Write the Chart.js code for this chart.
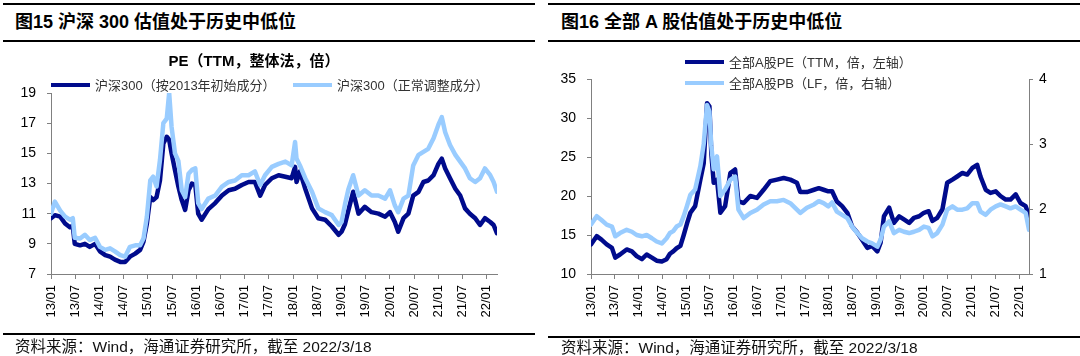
<!DOCTYPE html>
<html><head><meta charset="utf-8">
<script src="https://cdn.jsdelivr.net/npm/chart.js@4.4.1/dist/chart.umd.min.js"></script>
<style>
html,body{margin:0;padding:0;background:#fff;width:1080px;height:356px;overflow:hidden;position:relative;font-family:"Liberation Sans","Noto Sans CJK SC",sans-serif;}
.rule{position:absolute;background:#000;height:2px;}
.head{position:absolute;font-weight:bold;font-size:18px;line-height:18px;color:#000;white-space:nowrap;}
.src{position:absolute;font-size:15.5px;line-height:15px;color:#111;white-space:nowrap;}
.box{position:absolute;top:0;width:540px;height:356px;}
</style></head><body>
<div class="rule" style="left:3px;width:532px;top:3px;"></div>
<div class="rule" style="left:3px;width:532px;top:40px;"></div>
<div class="rule" style="left:548px;width:532px;top:3px;"></div>
<div class="rule" style="left:548px;width:532px;top:40px;"></div>
<div class="head" style="left:15px;top:13px;">图15 沪深 300 估值处于历史中低位</div>
<div class="head" style="left:561px;top:13px;">图16 全部 A 股估值处于历史中低位</div>
<div class="box" style="left:0;"><canvas id="c1" width="540" height="356"></canvas></div>
<div class="box" style="left:540px;"><canvas id="c2" width="540" height="356"></canvas></div>
<div class="rule" style="left:3px;width:532px;top:333px;"></div>
<div class="rule" style="left:548px;width:532px;top:336px;"></div>
<div class="src" style="left:15px;top:339px;">资料来源：Wind，海通证券研究所，截至 2022/3/18</div>
<div class="src" style="left:561px;top:340px;">资料来源：Wind，海通证券研究所，截至 2022/3/18</div>
<script>
// ---- tick labels ----
const halfYearTicks = [2013,2013.5,2014,2014.5,2015,2015.5,2016,2016.5,2017,2017.5,2018,2018.5,2019,2019.5,2020,2020.5,2021,2021.5,2022];
const tickLabels = ['13/01','13/07','14/01','14/07','15/01','15/07','16/01','16/07','17/01','17/07','18/01','18/07','19/01','19/07','20/01','20/07','21/01','21/07','22/01'];

// ---- Figure 15: CSI 300 PE ----
const hsDates = [2013.00,2013.08,2013.19,2013.29,2013.39,2013.45,2013.49,2013.60,2013.70,2013.80,2013.91,2014.01,2014.12,2014.22,2014.32,2014.43,2014.53,2014.63,2014.74,2014.84,2014.91,2014.98,2015.05,2015.11,2015.18,2015.25,2015.32,2015.39,2015.44,2015.49,2015.56,2015.63,2015.70,2015.77,2015.84,2015.91,2015.98,2016.04,2016.11,2016.25,2016.39,2016.53,2016.67,2016.80,2016.94,2017.08,2017.21,2017.32,2017.42,2017.56,2017.70,2017.84,2017.97,2018.04,2018.07,2018.14,2018.25,2018.39,2018.52,2018.66,2018.80,2018.94,2019.00,2019.07,2019.14,2019.24,2019.35,2019.48,2019.62,2019.76,2019.90,2020.00,2020.10,2020.17,2020.28,2020.38,2020.48,2020.59,2020.69,2020.79,2020.90,2021.00,2021.07,2021.14,2021.24,2021.35,2021.45,2021.55,2021.65,2021.76,2021.86,2021.96,2022.07,2022.14,2022.21];
const hsInitial = [10.7,10.9,10.8,10.35,10.1,10.2,9.0,8.9,9.0,8.8,9.0,8.5,8.25,8.15,7.95,7.8,7.8,8.15,8.35,8.6,9.15,10.35,12.1,11.9,12.1,13.2,15.65,16.1,15.9,15.0,13.9,12.8,11.9,11.25,12.55,13.0,12.9,11.0,10.6,11.3,11.7,12.2,12.55,12.65,12.9,13.1,13.1,12.2,12.9,13.35,13.55,13.45,13.35,14.1,13.1,13.8,12.65,11.35,10.7,10.6,10.15,9.6,9.8,10.3,11.2,12.45,11.0,11.45,11.1,11.0,10.8,11.1,10.45,9.8,10.7,11.0,12.2,12.45,13.1,13.2,13.55,14.3,14.65,14.0,13.35,12.65,12.2,11.35,11.0,10.7,10.25,10.7,10.45,10.25,9.7];
const hsAdjusted = [11.0,11.8,11.2,10.8,10.6,10.7,9.4,9.35,9.6,9.25,9.4,8.8,8.6,8.7,8.5,8.25,8.15,8.8,8.9,8.9,9.35,10.8,13.2,13.45,12.8,14.55,17.0,17.3,19.0,16.75,15.0,14.5,12.55,12.1,13.65,13.9,14.0,11.7,11.3,12.0,12.2,12.8,13.1,13.2,13.55,13.55,13.8,12.9,13.55,14.1,14.3,14.45,14.2,15.75,14.65,14.2,13.35,12.45,11.35,11.1,10.9,10.25,10.45,11.6,12.6,13.55,12.2,12.55,12.2,12.2,12.0,12.55,11.55,11.1,12.0,12.2,14.2,14.9,15.1,15.3,16.0,16.9,17.4,16.4,15.55,14.9,14.45,14.0,13.35,13.1,13.35,14.0,13.55,13.1,12.45];

// ---- Figure 16: All A-share PE / PB ----
const aDates = [2013.00,2013.12,2013.22,2013.33,2013.44,2013.51,2013.61,2013.75,2013.86,2013.96,2014.07,2014.17,2014.28,2014.38,2014.49,2014.59,2014.66,2014.73,2014.80,2014.88,2014.95,2015.02,2015.09,2015.19,2015.30,2015.37,2015.44,2015.49,2015.53,2015.58,2015.65,2015.72,2015.82,2015.93,2016.03,2016.10,2016.21,2016.35,2016.49,2016.63,2016.77,2016.91,2017.05,2017.19,2017.33,2017.40,2017.54,2017.69,2017.79,2017.89,2017.99,2018.07,2018.17,2018.28,2018.39,2018.49,2018.60,2018.70,2018.81,2018.91,2019.02,2019.09,2019.16,2019.27,2019.37,2019.48,2019.58,2019.69,2019.79,2019.90,2020.00,2020.10,2020.18,2020.28,2020.39,2020.49,2020.60,2020.70,2020.81,2020.91,2021.02,2021.12,2021.19,2021.30,2021.40,2021.51,2021.61,2021.72,2021.82,2021.93,2022.03,2022.14,2022.21];
const aPE = [13.8,14.85,14.4,13.8,13.35,12.1,12.5,13.15,12.9,12.3,11.9,12.5,12.1,11.7,11.6,11.9,12.6,12.9,13.3,13.6,15.0,16.5,17.85,18.7,22.1,24.2,31.9,31.5,25.5,21.7,22.1,17.85,18.7,22.95,23.4,19.3,19.1,20.0,19.75,20.8,21.9,22.1,22.3,22.1,21.7,20.5,20.5,20.8,21.0,20.8,20.6,20.6,19.3,18.7,17.85,16.1,15.3,14.4,13.35,13.6,12.9,14.0,17.4,18.5,16.55,17.4,17.0,16.55,17.2,17.4,17.85,18.05,16.8,17.2,18.3,21.7,22.1,22.5,22.95,22.75,23.6,24.0,22.5,20.8,20.4,20.6,20.0,19.55,19.55,20.2,19.1,18.7,17.4];
const aPB = [1.76,1.89,1.83,1.76,1.73,1.58,1.63,1.68,1.65,1.60,1.58,1.60,1.55,1.50,1.47,1.55,1.63,1.66,1.73,1.76,1.89,2.05,2.22,2.30,2.66,3.0,3.6,3.5,2.97,2.61,2.81,2.2,2.30,2.45,2.5,1.99,1.86,1.94,1.99,2.07,2.12,2.12,2.14,2.09,1.99,1.94,2.02,2.07,2.12,2.09,2.04,2.10,1.96,1.91,1.86,1.73,1.63,1.55,1.50,1.47,1.42,1.53,1.73,1.81,1.63,1.68,1.65,1.63,1.65,1.68,1.73,1.71,1.58,1.63,1.76,1.99,2.04,1.99,1.99,2.01,2.09,2.09,1.96,1.91,1.99,2.04,2.07,2.04,2.01,2.04,1.99,1.94,1.68];

const DARK = '#000b8c';
const LIGHT = '#99ccff';
const FONT = '"Liberation Sans","Noto Sans CJK SC",sans-serif';
const pts = (xs, ys) => xs.map((x, i) => ({x, y: ys[i]}));

const legendPlugin = {
  id: 'customLegend',
  afterDraw(chart, args, opts) {
    const ctx = chart.ctx;
    ctx.save();
    if (opts.title) {
      ctx.font = 'bold 15px ' + FONT;
      ctx.fillStyle = '#000';
      ctx.textAlign = 'center';
      ctx.textBaseline = 'middle';
      ctx.fillText(opts.title.text, opts.title.x, opts.title.y);
    }
    (opts.items || []).forEach((it, i) => {
      const ds = chart.data.datasets[i];
      ctx.strokeStyle = ds.borderColor;
      ctx.lineWidth = 4;
      ctx.lineCap = 'butt';
      ctx.beginPath();
      ctx.moveTo(it.x1, it.y);
      ctx.lineTo(it.x2, it.y);
      ctx.stroke();
      ctx.font = '13px ' + FONT;
      ctx.fillStyle = '#333';
      ctx.textAlign = 'left';
      ctx.textBaseline = 'middle';
      ctx.fillText(ds.label, it.tx, it.y + 1);
    });
    ctx.restore();
  }
};

function xScale() {
  return {
    type: 'linear', min: 2013, max: 2022.21,
    afterBuildTicks: s => { s.ticks = halfYearTicks.map(v => ({value: v})); },
    afterFit: s => { s.height = 60; },
    ticks: {
      autoSkip: false, minRotation: 90, maxRotation: 90, padding: 6,
      color: '#000', font: {size: 13, family: FONT},
      callback: (v) => tickLabels[halfYearTicks.indexOf(v)]
    },
    grid: {drawOnChartArea: false, drawTicks: true, tickLength: 5, color: '#808080'},
    border: {color: '#808080', width: 1}
  };
}
function yScale(min, max, step, pos) {
  return {
    type: 'linear', position: pos, min, max,
    afterFit: s => { s.width = 51; },
    ticks: {stepSize: step, padding: pos === 'left' ? 11 : 6, color: '#000', font: {size: 14, family: FONT}},
    grid: {drawOnChartArea: false, drawTicks: true, tickLength: 4, color: '#808080'},
    border: {color: '#808080', width: 1}
  };
}
const lineDs = (label, data, color, order, axis) => ({
  label, data, borderColor: color, backgroundColor: color, borderWidth: 4.5,
  pointRadius: 0, tension: 0, borderJoinStyle: 'round', borderCapStyle: 'round',
  order, yAxisID: axis || 'y'
});

new Chart(document.getElementById('c1'), {
  type: 'line',
  data: {datasets: [
    lineDs('沪深300（按2013年初始成分）', pts(hsDates, hsInitial), DARK, 1),
    lineDs('沪深300（正常调整成分）', pts(hsDates, hsAdjusted), LIGHT, 0)
  ]},
  options: {
    responsive: false, animation: false, parsing: true,
    layout: {padding: {left: 0, right: 43, top: 93, bottom: 22}},
    plugins: {
      legend: {display: false}, tooltip: {enabled: false},
      customLegend: {
        title: {text: 'PE（TTM，整体法，倍）', x: 254, y: 62},
        items: [{x1: 51, x2: 90, tx: 95, y: 85}, {x1: 293, x2: 332, tx: 337, y: 85}]
      }
    },
    scales: {x: xScale(), y: yScale(7, 19, 2, 'left')}
  },
  plugins: [legendPlugin]
});

new Chart(document.getElementById('c2'), {
  type: 'line',
  data: {datasets: [
    lineDs('全部A股PE（TTM，倍，左轴）', pts(aDates, aPE), DARK, 1, 'y'),
    lineDs('全部A股PB（LF，倍，右轴）', pts(aDates, aPB), LIGHT, 0, 'y1')
  ]},
  options: {
    responsive: false, animation: false,
    layout: {padding: {left: 0, right: 0, top: 79, bottom: 22}},
    plugins: {
      legend: {display: false}, tooltip: {enabled: false},
      customLegend: {
        items: [{x1: 145, x2: 184, tx: 189, y: 62}, {x1: 145, x2: 184, tx: 189, y: 83}]
      }
    },
    scales: {x: xScale(), y: yScale(10, 35, 5, 'left'), y1: yScale(1, 4, 1, 'right')}
  },
  plugins: [legendPlugin]
});
</script>
</body></html>
